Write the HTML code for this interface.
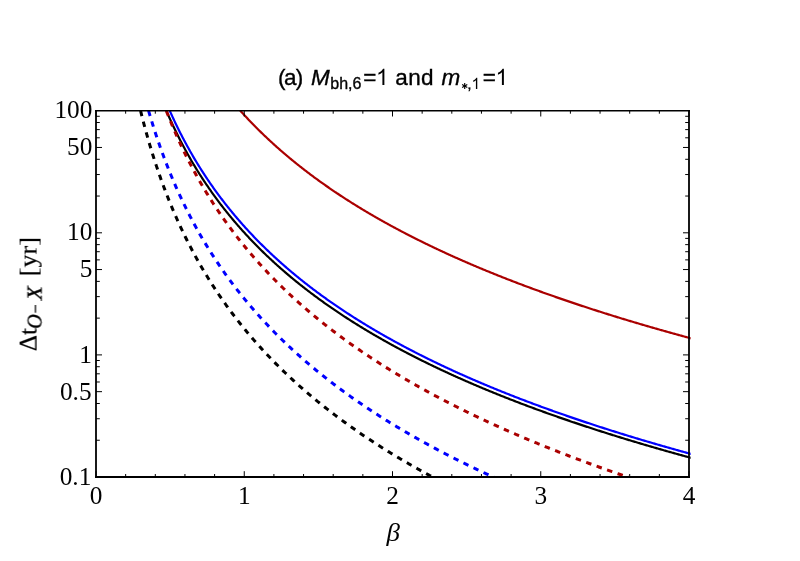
<!DOCTYPE html>
<html><head><meta charset="utf-8"><title>plot</title>
<style>
html,body{margin:0;padding:0;background:#fff;}
body{width:800px;height:561px;overflow:hidden;}
svg{display:block;}
text{font-family:"Liberation Serif",serif;fill:#000;}
.s{font-family:"Liberation Sans",sans-serif;}
</style></head><body>
<svg width="800" height="561" viewBox="0 0 800 561">
<rect width="800" height="561" fill="#fff"/>
<defs><clipPath id="c"><rect x="95.0" y="110.3" width="595.6" height="367.0"/></clipPath></defs>
<g clip-path="url(#c)">
<path d="M239.51 109.77 L240.25 110.60 L240.98 111.42 L241.72 112.23 L242.46 113.05 L243.19 113.85 L243.93 114.66 L244.66 115.46 L245.40 116.26 L246.14 117.05 L246.87 117.84 L247.61 118.62 L248.34 119.40 L249.08 120.18 L249.82 120.95 L250.55 121.72 L251.29 122.49 L252.03 123.25 L252.76 124.01 L253.50 124.76 L254.23 125.51 L254.97 126.26 L255.71 127.01 L256.44 127.75 L257.18 128.49 L257.91 129.22 L258.65 129.95 L259.39 130.68 L260.12 131.40 L260.86 132.12 L261.60 132.84 L262.33 133.56 L263.07 134.27 L263.80 134.98 L264.54 135.68 L265.28 136.38 L266.01 137.08 L266.75 137.78 L267.48 138.47 L268.22 139.16 L268.96 139.85 L269.69 140.53 L270.43 141.22 L271.17 141.89 L271.90 142.57 L272.64 143.24 L273.37 143.91 L274.11 144.58 L274.85 145.24 L275.58 145.90 L276.32 146.56 L277.05 147.22 L277.79 147.87 L278.53 148.52 L279.26 149.17 L280.00 149.82 L280.74 150.46 L281.47 151.10 L282.21 151.74 L282.94 152.37 L283.68 153.01 L284.42 153.64 L285.15 154.27 L285.89 154.89 L286.62 155.51 L287.36 156.13 L288.10 156.75 L288.83 157.37 L289.57 157.98 L290.31 158.59 L291.04 159.20 L291.78 159.81 L292.51 160.41 L293.25 161.01 L293.99 161.61 L294.72 162.21 L295.46 162.81 L296.19 163.40 L296.93 163.99 L297.67 164.58 L298.40 165.17 L299.14 165.75 L299.88 166.33 L300.61 166.91 L301.35 167.49 L302.08 168.07 L302.82 168.64 L303.56 169.21 L304.29 169.78 L305.03 170.35 L305.76 170.92 L306.50 171.48 L307.24 172.04 L307.97 172.60 L308.71 173.16 L309.45 173.71 L310.18 174.27 L310.92 174.82 L311.65 175.37 L312.39 175.92 L313.13 176.47 L313.86 177.01 L314.60 177.55 L315.33 178.09 L316.07 178.63 L316.81 179.17 L317.54 179.71 L318.28 180.24 L319.02 180.77 L319.75 181.30 L320.49 181.83 L321.22 182.36 L321.96 182.88 L322.70 183.41 L323.43 183.93 L324.17 184.45 L324.90 184.97 L325.64 185.48 L326.38 186.00 L327.11 186.51 L327.85 187.02 L328.59 187.53 L329.32 188.04 L330.06 188.55 L330.79 189.05 L331.53 189.55 L332.27 190.06 L333.00 190.56 L333.74 191.06 L334.47 191.55 L335.21 192.05 L335.95 192.54 L336.68 193.04 L337.42 193.53 L338.16 194.02 L338.89 194.50 L339.63 194.99 L340.36 195.48 L341.10 195.96 L341.84 196.44 L342.57 196.92 L343.31 197.40 L344.04 197.88 L344.78 198.36 L345.52 198.83 L346.25 199.31 L346.99 199.78 L347.73 200.25 L348.46 200.72 L349.20 201.19 L349.93 201.65 L350.67 202.12 L351.41 202.58 L352.14 203.05 L352.88 203.51 L353.61 203.97 L354.35 204.43 L355.09 204.88 L355.82 205.34 L356.56 205.80 L357.30 206.25 L358.03 206.70 L358.77 207.15 L359.50 207.60 L360.24 208.05 L360.98 208.50 L361.71 208.94 L362.45 209.39 L363.18 209.83 L363.92 210.27 L364.66 210.72 L365.39 211.16 L366.13 211.59 L366.87 212.03 L367.60 212.47 L368.34 212.90 L369.07 213.34 L369.81 213.77 L370.55 214.20 L371.28 214.63 L372.02 215.06 L372.75 215.49 L373.49 215.92 L374.23 216.34 L374.96 216.77 L375.70 217.19 L376.44 217.61 L377.17 218.03 L377.91 218.45 L378.64 218.87 L379.38 219.29 L380.12 219.71 L380.85 220.12 L381.59 220.54 L382.32 220.95 L383.06 221.37 L383.80 221.78 L384.53 222.19 L385.27 222.60 L386.01 223.01 L386.74 223.41 L387.48 223.82 L388.21 224.22 L388.95 224.63 L389.69 225.03 L390.42 225.43 L391.16 225.84 L391.89 226.24 L392.63 226.64 L393.37 227.03 L394.10 227.43 L394.84 227.83 L395.58 228.22 L396.31 228.62 L397.05 229.01 L397.78 229.40 L398.52 229.79 L399.26 230.19 L399.99 230.57 L400.73 230.96 L401.46 231.35 L402.20 231.74 L402.94 232.12 L403.67 232.51 L404.41 232.89 L405.15 233.28 L405.88 233.66 L406.62 234.04 L407.35 234.42 L408.09 234.80 L408.83 235.18 L409.56 235.55 L410.30 235.93 L411.03 236.31 L411.77 236.68 L412.51 237.06 L413.24 237.43 L413.98 237.80 L414.72 238.17 L415.45 238.54 L416.19 238.91 L416.92 239.28 L417.66 239.65 L418.40 240.02 L419.13 240.38 L419.87 240.75 L420.60 241.11 L421.34 241.48 L422.08 241.84 L422.81 242.20 L423.55 242.56 L424.29 242.93 L425.02 243.29 L425.76 243.64 L426.49 244.00 L427.23 244.36 L427.97 244.72 L428.70 245.07 L429.44 245.43 L430.17 245.78 L430.91 246.13 L431.65 246.49 L432.38 246.84 L433.12 247.19 L433.86 247.54 L434.59 247.89 L435.33 248.24 L436.06 248.59 L436.80 248.93 L437.54 249.28 L438.27 249.63 L439.01 249.97 L439.74 250.32 L440.48 250.66 L441.22 251.00 L441.95 251.34 L442.69 251.69 L443.43 252.03 L444.16 252.37 L444.90 252.71 L445.63 253.04 L446.37 253.38 L447.11 253.72 L447.84 254.06 L448.58 254.39 L449.31 254.73 L450.05 255.06 L450.79 255.39 L451.52 255.73 L452.26 256.06 L453.00 256.39 L453.73 256.72 L454.47 257.05 L455.20 257.38 L455.94 257.71 L456.68 258.04 L457.41 258.36 L458.15 258.69 L458.88 259.02 L459.62 259.34 L460.36 259.67 L461.09 259.99 L461.83 260.32 L462.57 260.64 L463.30 260.96 L464.04 261.28 L464.77 261.60 L465.51 261.92 L466.25 262.24 L466.98 262.56 L467.72 262.88 L468.45 263.20 L469.19 263.51 L469.93 263.83 L470.66 264.15 L471.40 264.46 L472.14 264.78 L472.87 265.09 L473.61 265.40 L474.34 265.72 L475.08 266.03 L475.82 266.34 L476.55 266.65 L477.29 266.96 L478.02 267.27 L478.76 267.58 L479.50 267.89 L480.23 268.20 L480.97 268.50 L481.71 268.81 L482.44 269.12 L483.18 269.42 L483.91 269.73 L484.65 270.03 L485.39 270.33 L486.12 270.64 L486.86 270.94 L487.59 271.24 L488.33 271.54 L489.07 271.84 L489.80 272.14 L490.54 272.44 L491.28 272.74 L492.01 273.04 L492.75 273.34 L493.48 273.64 L494.22 273.93 L494.96 274.23 L495.69 274.53 L496.43 274.82 L497.16 275.12 L497.90 275.41 L498.64 275.70 L499.37 276.00 L500.11 276.29 L500.85 276.58 L501.58 276.87 L502.32 277.17 L503.05 277.46 L503.79 277.75 L504.53 278.04 L505.26 278.32 L506.00 278.61 L506.73 278.90 L507.47 279.19 L508.21 279.48 L508.94 279.76 L509.68 280.05 L510.42 280.33 L511.15 280.62 L511.89 280.90 L512.62 281.19 L513.36 281.47 L514.10 281.75 L514.83 282.03 L515.57 282.32 L516.30 282.60 L517.04 282.88 L517.78 283.16 L518.51 283.44 L519.25 283.72 L519.99 284.00 L520.72 284.27 L521.46 284.55 L522.19 284.83 L522.93 285.11 L523.67 285.38 L524.40 285.66 L525.14 285.94 L525.87 286.21 L526.61 286.48 L527.35 286.76 L528.08 287.03 L528.82 287.31 L529.56 287.58 L530.29 287.85 L531.03 288.12 L531.76 288.39 L532.50 288.66 L533.24 288.93 L533.97 289.20 L534.71 289.47 L535.44 289.74 L536.18 290.01 L536.92 290.28 L537.65 290.55 L538.39 290.81 L539.13 291.08 L539.86 291.35 L540.60 291.61 L541.33 291.88 L542.07 292.14 L542.81 292.41 L543.54 292.67 L544.28 292.94 L545.01 293.20 L545.75 293.46 L546.49 293.73 L547.22 293.99 L547.96 294.25 L548.70 294.51 L549.43 294.77 L550.17 295.03 L550.90 295.29 L551.64 295.55 L552.38 295.81 L553.11 296.07 L553.85 296.33 L554.58 296.58 L555.32 296.84 L556.06 297.10 L556.79 297.35 L557.53 297.61 L558.27 297.87 L559.00 298.12 L559.74 298.38 L560.47 298.63 L561.21 298.88 L561.95 299.14 L562.68 299.39 L563.42 299.64 L564.15 299.90 L564.89 300.15 L565.63 300.40 L566.36 300.65 L567.10 300.90 L567.84 301.15 L568.57 301.40 L569.31 301.65 L570.04 301.90 L570.78 302.15 L571.52 302.40 L572.25 302.65 L572.99 302.90 L573.72 303.14 L574.46 303.39 L575.20 303.64 L575.93 303.88 L576.67 304.13 L577.41 304.37 L578.14 304.62 L578.88 304.86 L579.61 305.11 L580.35 305.35 L581.09 305.60 L581.82 305.84 L582.56 306.08 L583.29 306.32 L584.03 306.57 L584.77 306.81 L585.50 307.05 L586.24 307.29 L586.98 307.53 L587.71 307.77 L588.45 308.01 L589.18 308.25 L589.92 308.49 L590.66 308.73 L591.39 308.97 L592.13 309.21 L592.86 309.44 L593.60 309.68 L594.34 309.92 L595.07 310.16 L595.81 310.39 L596.55 310.63 L597.28 310.86 L598.02 311.10 L598.75 311.33 L599.49 311.57 L600.23 311.80 L600.96 312.04 L601.70 312.27 L602.43 312.50 L603.17 312.74 L603.91 312.97 L604.64 313.20 L605.38 313.43 L606.12 313.67 L606.85 313.90 L607.59 314.13 L608.32 314.36 L609.06 314.59 L609.80 314.82 L610.53 315.05 L611.27 315.28 L612.00 315.51 L612.74 315.73 L613.48 315.96 L614.21 316.19 L614.95 316.42 L615.69 316.65 L616.42 316.87 L617.16 317.10 L617.89 317.33 L618.63 317.55 L619.37 317.78 L620.10 318.00 L620.84 318.23 L621.57 318.45 L622.31 318.68 L623.05 318.90 L623.78 319.13 L624.52 319.35 L625.26 319.57 L625.99 319.80 L626.73 320.02 L627.46 320.24 L628.20 320.46 L628.94 320.68 L629.67 320.91 L630.41 321.13 L631.14 321.35 L631.88 321.57 L632.62 321.79 L633.35 322.01 L634.09 322.23 L634.83 322.45 L635.56 322.67 L636.30 322.88 L637.03 323.10 L637.77 323.32 L638.51 323.54 L639.24 323.76 L639.98 323.97 L640.71 324.19 L641.45 324.41 L642.19 324.62 L642.92 324.84 L643.66 325.05 L644.40 325.27 L645.13 325.48 L645.87 325.70 L646.60 325.91 L647.34 326.13 L648.08 326.34 L648.81 326.56 L649.55 326.77 L650.28 326.98 L651.02 327.19 L651.76 327.41 L652.49 327.62 L653.23 327.83 L653.97 328.04 L654.70 328.25 L655.44 328.47 L656.17 328.68 L656.91 328.89 L657.65 329.10 L658.38 329.31 L659.12 329.52 L659.85 329.73 L660.59 329.94 L661.33 330.14 L662.06 330.35 L662.80 330.56 L663.54 330.77 L664.27 330.98 L665.01 331.18 L665.74 331.39 L666.48 331.60 L667.22 331.81 L667.95 332.01 L668.69 332.22 L669.42 332.42 L670.16 332.63 L670.90 332.84 L671.63 333.04 L672.37 333.25 L673.11 333.45 L673.84 333.65 L674.58 333.86 L675.31 334.06 L676.05 334.27 L676.79 334.47 L677.52 334.67 L678.26 334.88 L678.99 335.08 L679.73 335.28 L680.47 335.48 L681.20 335.68 L681.94 335.89 L682.68 336.09 L683.41 336.29 L684.15 336.49 L684.88 336.69 L685.62 336.89 L686.36 337.09 L687.09 337.29 L687.83 337.49 L688.56 337.69 L689.30 337.89 L690.04 338.09 L690.77 338.28 L691.51 338.48 L692.25 338.68 L692.47 338.74" fill="none" stroke="#aa0000" stroke-width="2.2"/>
<path d="M169.35 109.82 L170.09 111.48 L170.83 113.13 L171.56 114.75 L172.30 116.37 L173.04 117.96 L173.77 119.55 L174.51 121.11 L175.24 122.66 L175.98 124.20 L176.72 125.72 L177.45 127.23 L178.19 128.73 L178.92 130.21 L179.66 131.68 L180.40 133.13 L181.13 134.58 L181.87 136.01 L182.61 137.42 L183.34 138.83 L184.08 140.22 L184.81 141.60 L185.55 142.97 L186.29 144.33 L187.02 145.68 L187.76 147.02 L188.49 148.34 L189.23 149.66 L189.97 150.96 L190.70 152.26 L191.44 153.54 L192.18 154.82 L192.91 156.08 L193.65 157.33 L194.38 158.58 L195.12 159.81 L195.86 161.04 L196.59 162.26 L197.33 163.47 L198.06 164.67 L198.80 165.86 L199.54 167.04 L200.27 168.21 L201.01 169.38 L201.75 170.53 L202.48 171.68 L203.22 172.82 L203.95 173.96 L204.69 175.08 L205.43 176.20 L206.16 177.31 L206.90 178.41 L207.63 179.51 L208.37 180.60 L209.11 181.68 L209.84 182.75 L210.58 183.82 L211.32 184.88 L212.05 185.93 L212.79 186.97 L213.52 188.01 L214.26 189.05 L215.00 190.07 L215.73 191.09 L216.47 192.11 L217.20 193.11 L217.94 194.11 L218.68 195.11 L219.41 196.10 L220.15 197.08 L220.89 198.06 L221.62 199.03 L222.36 199.99 L223.09 200.95 L223.83 201.91 L224.57 202.86 L225.30 203.80 L226.04 204.74 L226.77 205.67 L227.51 206.60 L228.25 207.52 L228.98 208.44 L229.72 209.35 L230.46 210.26 L231.19 211.16 L231.93 212.05 L232.66 212.95 L233.40 213.83 L234.14 214.71 L234.87 215.59 L235.61 216.46 L236.34 217.33 L237.08 218.20 L237.82 219.05 L238.55 219.91 L239.29 220.76 L240.03 221.60 L240.76 222.45 L241.50 223.28 L242.23 224.11 L242.97 224.94 L243.71 225.77 L244.44 226.59 L245.18 227.40 L245.91 228.21 L246.65 229.02 L247.39 229.83 L248.12 230.63 L248.86 231.42 L249.60 232.21 L250.33 233.00 L251.07 233.79 L251.80 234.57 L252.54 235.34 L253.28 236.12 L254.01 236.89 L254.75 237.65 L255.48 238.42 L256.22 239.17 L256.96 239.93 L257.69 240.68 L258.43 241.43 L259.17 242.18 L259.90 242.92 L260.64 243.66 L261.37 244.39 L262.11 245.12 L262.85 245.85 L263.58 246.58 L264.32 247.30 L265.06 248.02 L265.79 248.73 L266.53 249.44 L267.26 250.15 L268.00 250.86 L268.74 251.56 L269.47 252.26 L270.21 252.96 L270.94 253.65 L271.68 254.35 L272.42 255.03 L273.15 255.72 L273.89 256.40 L274.63 257.08 L275.36 257.76 L276.10 258.43 L276.83 259.10 L277.57 259.77 L278.31 260.44 L279.04 261.10 L279.78 261.76 L280.51 262.42 L281.25 263.08 L281.99 263.73 L282.72 264.38 L283.46 265.02 L284.20 265.67 L284.93 266.31 L285.67 266.95 L286.40 267.59 L287.14 268.22 L287.88 268.86 L288.61 269.48 L289.35 270.11 L290.08 270.74 L290.82 271.36 L291.56 271.98 L292.29 272.60 L293.03 273.21 L293.77 273.83 L294.50 274.44 L295.24 275.05 L295.97 275.65 L296.71 276.26 L297.45 276.86 L298.18 277.46 L298.92 278.05 L299.65 278.65 L300.39 279.24 L301.13 279.83 L301.86 280.42 L302.60 281.01 L303.34 281.59 L304.07 282.18 L304.81 282.76 L305.54 283.33 L306.28 283.91 L307.02 284.48 L307.75 285.06 L308.49 285.63 L309.22 286.20 L309.96 286.76 L310.70 287.33 L311.43 287.89 L312.17 288.45 L312.91 289.01 L313.64 289.56 L314.38 290.12 L315.11 290.67 L315.85 291.22 L316.59 291.77 L317.32 292.32 L318.06 292.86 L318.79 293.41 L319.53 293.95 L320.27 294.49 L321.00 295.03 L321.74 295.56 L322.48 296.10 L323.21 296.63 L323.95 297.16 L324.68 297.69 L325.42 298.22 L326.16 298.74 L326.89 299.27 L327.63 299.79 L328.36 300.31 L329.10 300.83 L329.84 301.35 L330.57 301.86 L331.31 302.38 L332.05 302.89 L332.78 303.40 L333.52 303.91 L334.25 304.42 L334.99 304.92 L335.73 305.43 L336.46 305.93 L337.20 306.43 L337.93 306.93 L338.67 307.43 L339.41 307.93 L340.14 308.42 L340.88 308.92 L341.62 309.41 L342.35 309.90 L343.09 310.39 L343.82 310.88 L344.56 311.37 L345.30 311.85 L346.03 312.33 L346.77 312.82 L347.50 313.30 L348.24 313.78 L348.98 314.25 L349.71 314.73 L350.45 315.21 L351.19 315.68 L351.92 316.15 L352.66 316.62 L353.39 317.09 L354.13 317.56 L354.87 318.03 L355.60 318.49 L356.34 318.96 L357.07 319.42 L357.81 319.88 L358.55 320.34 L359.28 320.80 L360.02 321.26 L360.76 321.72 L361.49 322.17 L362.23 322.62 L362.96 323.08 L363.70 323.53 L364.44 323.98 L365.17 324.43 L365.91 324.87 L366.64 325.32 L367.38 325.77 L368.12 326.21 L368.85 326.65 L369.59 327.09 L370.33 327.53 L371.06 327.97 L371.80 328.41 L372.53 328.85 L373.27 329.28 L374.01 329.72 L374.74 330.15 L375.48 330.58 L376.21 331.01 L376.95 331.44 L377.69 331.87 L378.42 332.30 L379.16 332.73 L379.90 333.15 L380.63 333.58 L381.37 334.00 L382.10 334.42 L382.84 334.84 L383.58 335.26 L384.31 335.68 L385.05 336.10 L385.78 336.52 L386.52 336.93 L387.26 337.35 L387.99 337.76 L388.73 338.17 L389.47 338.58 L390.20 338.99 L390.94 339.40 L391.67 339.81 L392.41 340.22 L393.15 340.62 L393.88 341.03 L394.62 341.43 L395.35 341.84 L396.09 342.24 L396.83 342.64 L397.56 343.04 L398.30 343.44 L399.04 343.84 L399.77 344.23 L400.51 344.63 L401.24 345.03 L401.98 345.42 L402.72 345.81 L403.45 346.21 L404.19 346.60 L404.92 346.99 L405.66 347.38 L406.40 347.77 L407.13 348.15 L407.87 348.54 L408.61 348.93 L409.34 349.31 L410.08 349.69 L410.81 350.08 L411.55 350.46 L412.29 350.84 L413.02 351.22 L413.76 351.60 L414.49 351.98 L415.23 352.36 L415.97 352.73 L416.70 353.11 L417.44 353.49 L418.18 353.86 L418.91 354.23 L419.65 354.61 L420.38 354.98 L421.12 355.35 L421.86 355.72 L422.59 356.09 L423.33 356.46 L424.06 356.82 L424.80 357.19 L425.54 357.56 L426.27 357.92 L427.01 358.29 L427.75 358.65 L428.48 359.01 L429.22 359.37 L429.95 359.73 L430.69 360.09 L431.43 360.45 L432.16 360.81 L432.90 361.17 L433.63 361.53 L434.37 361.88 L435.11 362.24 L435.84 362.59 L436.58 362.95 L437.32 363.30 L438.05 363.65 L438.79 364.00 L439.52 364.35 L440.26 364.70 L441.00 365.05 L441.73 365.40 L442.47 365.75 L443.20 366.10 L443.94 366.44 L444.68 366.79 L445.41 367.13 L446.15 367.48 L446.89 367.82 L447.62 368.16 L448.36 368.51 L449.09 368.85 L449.83 369.19 L450.57 369.53 L451.30 369.87 L452.04 370.20 L452.77 370.54 L453.51 370.88 L454.25 371.21 L454.98 371.55 L455.72 371.89 L456.46 372.22 L457.19 372.55 L457.93 372.89 L458.66 373.22 L459.40 373.55 L460.14 373.88 L460.87 374.21 L461.61 374.54 L462.34 374.87 L463.08 375.20 L463.82 375.52 L464.55 375.85 L465.29 376.18 L466.03 376.50 L466.76 376.83 L467.50 377.15 L468.23 377.47 L468.97 377.80 L469.71 378.12 L470.44 378.44 L471.18 378.76 L471.91 379.08 L472.65 379.40 L473.39 379.72 L474.12 380.04 L474.86 380.36 L475.60 380.67 L476.33 380.99 L477.07 381.31 L477.80 381.62 L478.54 381.94 L479.28 382.25 L480.01 382.56 L480.75 382.88 L481.48 383.19 L482.22 383.50 L482.96 383.81 L483.69 384.12 L484.43 384.43 L485.17 384.74 L485.90 385.05 L486.64 385.36 L487.37 385.66 L488.11 385.97 L488.85 386.28 L489.58 386.58 L490.32 386.89 L491.05 387.19 L491.79 387.50 L492.53 387.80 L493.26 388.10 L494.00 388.41 L494.74 388.71 L495.47 389.01 L496.21 389.31 L496.94 389.61 L497.68 389.91 L498.42 390.21 L499.15 390.51 L499.89 390.80 L500.62 391.10 L501.36 391.40 L502.10 391.70 L502.83 391.99 L503.57 392.29 L504.31 392.58 L505.04 392.87 L505.78 393.17 L506.51 393.46 L507.25 393.75 L507.99 394.05 L508.72 394.34 L509.46 394.63 L510.19 394.92 L510.93 395.21 L511.67 395.50 L512.40 395.79 L513.14 396.07 L513.88 396.36 L514.61 396.65 L515.35 396.94 L516.08 397.22 L516.82 397.51 L517.56 397.79 L518.29 398.08 L519.03 398.36 L519.76 398.65 L520.50 398.93 L521.24 399.21 L521.97 399.50 L522.71 399.78 L523.45 400.06 L524.18 400.34 L524.92 400.62 L525.65 400.90 L526.39 401.18 L527.13 401.46 L527.86 401.74 L528.60 402.01 L529.33 402.29 L530.07 402.57 L530.81 402.84 L531.54 403.12 L532.28 403.40 L533.02 403.67 L533.75 403.95 L534.49 404.22 L535.22 404.49 L535.96 404.77 L536.70 405.04 L537.43 405.31 L538.17 405.58 L538.90 405.86 L539.64 406.13 L540.38 406.40 L541.11 406.67 L541.85 406.94 L542.59 407.21 L543.32 407.47 L544.06 407.74 L544.79 408.01 L545.53 408.28 L546.27 408.54 L547.00 408.81 L547.74 409.08 L548.47 409.34 L549.21 409.61 L549.95 409.87 L550.68 410.14 L551.42 410.40 L552.16 410.66 L552.89 410.93 L553.63 411.19 L554.36 411.45 L555.10 411.71 L555.84 411.98 L556.57 412.24 L557.31 412.50 L558.04 412.76 L558.78 413.02 L559.52 413.28 L560.25 413.53 L560.99 413.79 L561.73 414.05 L562.46 414.31 L563.20 414.57 L563.93 414.82 L564.67 415.08 L565.41 415.33 L566.14 415.59 L566.88 415.85 L567.61 416.10 L568.35 416.35 L569.09 416.61 L569.82 416.86 L570.56 417.11 L571.30 417.37 L572.03 417.62 L572.77 417.87 L573.50 418.12 L574.24 418.37 L574.98 418.63 L575.71 418.88 L576.45 419.13 L577.18 419.38 L577.92 419.62 L578.66 419.87 L579.39 420.12 L580.13 420.37 L580.87 420.62 L581.60 420.87 L582.34 421.11 L583.07 421.36 L583.81 421.60 L584.55 421.85 L585.28 422.10 L586.02 422.34 L586.75 422.59 L587.49 422.83 L588.23 423.07 L588.96 423.32 L589.70 423.56 L590.44 423.80 L591.17 424.05 L591.91 424.29 L592.64 424.53 L593.38 424.77 L594.12 425.01 L594.85 425.25 L595.59 425.49 L596.32 425.73 L597.06 425.97 L597.80 426.21 L598.53 426.45 L599.27 426.69 L600.01 426.93 L600.74 427.17 L601.48 427.40 L602.21 427.64 L602.95 427.88 L603.69 428.11 L604.42 428.35 L605.16 428.59 L605.89 428.82 L606.63 429.06 L607.37 429.29 L608.10 429.53 L608.84 429.76 L609.58 429.99 L610.31 430.23 L611.05 430.46 L611.78 430.69 L612.52 430.93 L613.26 431.16 L613.99 431.39 L614.73 431.62 L615.46 431.85 L616.20 432.08 L616.94 432.31 L617.67 432.54 L618.41 432.77 L619.15 433.00 L619.88 433.23 L620.62 433.46 L621.35 433.69 L622.09 433.92 L622.83 434.14 L623.56 434.37 L624.30 434.60 L625.03 434.83 L625.77 435.05 L626.51 435.28 L627.24 435.50 L627.98 435.73 L628.72 435.96 L629.45 436.18 L630.19 436.40 L630.92 436.63 L631.66 436.85 L632.40 437.08 L633.13 437.30 L633.87 437.52 L634.60 437.75 L635.34 437.97 L636.08 438.19 L636.81 438.41 L637.55 438.63 L638.29 438.86 L639.02 439.08 L639.76 439.30 L640.49 439.52 L641.23 439.74 L641.97 439.96 L642.70 440.18 L643.44 440.40 L644.17 440.61 L644.91 440.83 L645.65 441.05 L646.38 441.27 L647.12 441.49 L647.86 441.70 L648.59 441.92 L649.33 442.14 L650.06 442.35 L650.80 442.57 L651.54 442.79 L652.27 443.00 L653.01 443.22 L653.74 443.43 L654.48 443.65 L655.22 443.86 L655.95 444.08 L656.69 444.29 L657.43 444.50 L658.16 444.72 L658.90 444.93 L659.63 445.14 L660.37 445.36 L661.11 445.57 L661.84 445.78 L662.58 445.99 L663.31 446.20 L664.05 446.41 L664.79 446.63 L665.52 446.84 L666.26 447.05 L667.00 447.26 L667.73 447.47 L668.47 447.68 L669.20 447.88 L669.94 448.09 L670.68 448.30 L671.41 448.51 L672.15 448.72 L672.88 448.93 L673.62 449.13 L674.36 449.34 L675.09 449.55 L675.83 449.76 L676.57 449.96 L677.30 450.17 L678.04 450.37 L678.77 450.58 L679.51 450.79 L680.25 450.99 L680.98 451.20 L681.72 451.40 L682.45 451.61 L683.19 451.81 L683.93 452.01 L684.66 452.22 L685.40 452.42 L686.14 452.62 L686.87 452.83 L687.61 453.03 L688.34 453.23 L689.08 453.43 L689.82 453.64 L690.55 453.84 L691.29 454.04 L692.02 454.24 L692.47 454.36" fill="none" stroke="#0000ff" stroke-width="2.2"/>
<path d="M165.97 109.81 L166.70 111.52 L167.44 113.22 L168.18 114.91 L168.91 116.57 L169.65 118.22 L170.39 119.85 L171.12 121.47 L171.86 123.07 L172.59 124.65 L173.33 126.22 L174.07 127.77 L174.80 129.31 L175.54 130.84 L176.27 132.35 L177.01 133.84 L177.75 135.33 L178.48 136.80 L179.22 138.25 L179.96 139.70 L180.69 141.13 L181.43 142.54 L182.16 143.95 L182.90 145.34 L183.64 146.72 L184.37 148.09 L185.11 149.45 L185.84 150.80 L186.58 152.14 L187.32 153.46 L188.05 154.77 L188.79 156.08 L189.53 157.37 L190.26 158.65 L191.00 159.93 L191.73 161.19 L192.47 162.44 L193.21 163.69 L193.94 164.92 L194.68 166.15 L195.41 167.36 L196.15 168.57 L196.89 169.77 L197.62 170.96 L198.36 172.14 L199.10 173.31 L199.83 174.47 L200.57 175.62 L201.30 176.77 L202.04 177.91 L202.78 179.04 L203.51 180.16 L204.25 181.28 L204.98 182.39 L205.72 183.49 L206.46 184.58 L207.19 185.66 L207.93 186.74 L208.67 187.81 L209.40 188.88 L210.14 189.93 L210.87 190.98 L211.61 192.03 L212.35 193.06 L213.08 194.09 L213.82 195.12 L214.55 196.13 L215.29 197.14 L216.03 198.15 L216.76 199.15 L217.50 200.14 L218.24 201.12 L218.97 202.10 L219.71 203.08 L220.44 204.05 L221.18 205.01 L221.92 205.97 L222.65 206.92 L223.39 207.86 L224.12 208.80 L224.86 209.74 L225.60 210.67 L226.33 211.59 L227.07 212.51 L227.81 213.42 L228.54 214.33 L229.28 215.23 L230.01 216.13 L230.75 217.03 L231.49 217.91 L232.22 218.80 L232.96 219.68 L233.69 220.55 L234.43 221.42 L235.17 222.29 L235.90 223.15 L236.64 224.00 L237.38 224.85 L238.11 225.70 L238.85 226.54 L239.58 227.38 L240.32 228.21 L241.06 229.04 L241.79 229.87 L242.53 230.69 L243.26 231.50 L244.00 232.32 L244.74 233.12 L245.47 233.93 L246.21 234.73 L246.95 235.52 L247.68 236.32 L248.42 237.11 L249.15 237.89 L249.89 238.67 L250.63 239.45 L251.36 240.22 L252.10 240.99 L252.83 241.76 L253.57 242.52 L254.31 243.28 L255.04 244.04 L255.78 244.79 L256.52 245.54 L257.25 246.28 L257.99 247.02 L258.72 247.76 L259.46 248.50 L260.20 249.23 L260.93 249.96 L261.67 250.68 L262.40 251.40 L263.14 252.12 L263.88 252.84 L264.61 253.55 L265.35 254.26 L266.09 254.96 L266.82 255.67 L267.56 256.37 L268.29 257.06 L269.03 257.76 L269.77 258.45 L270.50 259.13 L271.24 259.82 L271.97 260.50 L272.71 261.18 L273.45 261.86 L274.18 262.53 L274.92 263.20 L275.66 263.87 L276.39 264.53 L277.13 265.20 L277.86 265.86 L278.60 266.51 L279.34 267.17 L280.07 267.82 L280.81 268.47 L281.54 269.11 L282.28 269.76 L283.02 270.40 L283.75 271.04 L284.49 271.68 L285.23 272.31 L285.96 272.94 L286.70 273.57 L287.43 274.20 L288.17 274.82 L288.91 275.44 L289.64 276.06 L290.38 276.68 L291.11 277.29 L291.85 277.90 L292.59 278.51 L293.32 279.12 L294.06 279.73 L294.80 280.33 L295.53 280.93 L296.27 281.53 L297.00 282.13 L297.74 282.72 L298.48 283.31 L299.21 283.90 L299.95 284.49 L300.68 285.07 L301.42 285.66 L302.16 286.24 L302.89 286.82 L303.63 287.39 L304.37 287.97 L305.10 288.54 L305.84 289.11 L306.57 289.68 L307.31 290.25 L308.05 290.81 L308.78 291.38 L309.52 291.94 L310.25 292.50 L310.99 293.06 L311.73 293.61 L312.46 294.16 L313.20 294.72 L313.94 295.26 L314.67 295.81 L315.41 296.36 L316.14 296.90 L316.88 297.44 L317.62 297.98 L318.35 298.52 L319.09 299.06 L319.82 299.59 L320.56 300.13 L321.30 300.66 L322.03 301.19 L322.77 301.72 L323.51 302.24 L324.24 302.77 L324.98 303.29 L325.71 303.81 L326.45 304.33 L327.19 304.85 L327.92 305.37 L328.66 305.88 L329.39 306.39 L330.13 306.90 L330.87 307.41 L331.60 307.92 L332.34 308.43 L333.08 308.93 L333.81 309.44 L334.55 309.94 L335.28 310.44 L336.02 310.94 L336.76 311.43 L337.49 311.93 L338.23 312.42 L338.96 312.92 L339.70 313.41 L340.44 313.90 L341.17 314.38 L341.91 314.87 L342.65 315.35 L343.38 315.84 L344.12 316.32 L344.85 316.80 L345.59 317.28 L346.33 317.76 L347.06 318.23 L347.80 318.71 L348.53 319.18 L349.27 319.66 L350.01 320.13 L350.74 320.60 L351.48 321.06 L352.22 321.53 L352.95 322.00 L353.69 322.46 L354.42 322.92 L355.16 323.38 L355.90 323.84 L356.63 324.30 L357.37 324.76 L358.10 325.22 L358.84 325.67 L359.58 326.13 L360.31 326.58 L361.05 327.03 L361.79 327.48 L362.52 327.93 L363.26 328.38 L363.99 328.82 L364.73 329.27 L365.47 329.71 L366.20 330.15 L366.94 330.59 L367.67 331.03 L368.41 331.47 L369.15 331.91 L369.88 332.35 L370.62 332.78 L371.36 333.22 L372.09 333.65 L372.83 334.08 L373.56 334.51 L374.30 334.94 L375.04 335.37 L375.77 335.80 L376.51 336.22 L377.25 336.65 L377.98 337.07 L378.72 337.49 L379.45 337.91 L380.19 338.33 L380.93 338.75 L381.66 339.17 L382.40 339.59 L383.13 340.01 L383.87 340.42 L384.61 340.83 L385.34 341.25 L386.08 341.66 L386.82 342.07 L387.55 342.48 L388.29 342.89 L389.02 343.30 L389.76 343.70 L390.50 344.11 L391.23 344.51 L391.97 344.92 L392.70 345.32 L393.44 345.72 L394.18 346.12 L394.91 346.52 L395.65 346.92 L396.39 347.32 L397.12 347.71 L397.86 348.11 L398.59 348.50 L399.33 348.90 L400.07 349.29 L400.80 349.68 L401.54 350.07 L402.27 350.46 L403.01 350.85 L403.75 351.24 L404.48 351.63 L405.22 352.01 L405.96 352.40 L406.69 352.78 L407.43 353.17 L408.16 353.55 L408.90 353.93 L409.64 354.31 L410.37 354.69 L411.11 355.07 L411.84 355.45 L412.58 355.83 L413.32 356.20 L414.05 356.58 L414.79 356.95 L415.53 357.33 L416.26 357.70 L417.00 358.07 L417.73 358.44 L418.47 358.81 L419.21 359.18 L419.94 359.55 L420.68 359.92 L421.41 360.28 L422.15 360.65 L422.89 361.01 L423.62 361.38 L424.36 361.74 L425.10 362.10 L425.83 362.47 L426.57 362.83 L427.30 363.19 L428.04 363.55 L428.78 363.91 L429.51 364.26 L430.25 364.62 L430.98 364.98 L431.72 365.33 L432.46 365.69 L433.19 366.04 L433.93 366.39 L434.67 366.75 L435.40 367.10 L436.14 367.45 L436.87 367.80 L437.61 368.15 L438.35 368.50 L439.08 368.84 L439.82 369.19 L440.55 369.54 L441.29 369.88 L442.03 370.23 L442.76 370.57 L443.50 370.92 L444.24 371.26 L444.97 371.60 L445.71 371.94 L446.44 372.28 L447.18 372.62 L447.92 372.96 L448.65 373.30 L449.39 373.64 L450.12 373.97 L450.86 374.31 L451.60 374.64 L452.33 374.98 L453.07 375.31 L453.81 375.65 L454.54 375.98 L455.28 376.31 L456.01 376.64 L456.75 376.97 L457.49 377.30 L458.22 377.63 L458.96 377.96 L459.69 378.29 L460.43 378.62 L461.17 378.94 L461.90 379.27 L462.64 379.59 L463.38 379.92 L464.11 380.24 L464.85 380.57 L465.58 380.89 L466.32 381.21 L467.06 381.53 L467.79 381.85 L468.53 382.17 L469.26 382.49 L470.00 382.81 L470.74 383.13 L471.47 383.45 L472.21 383.76 L472.95 384.08 L473.68 384.40 L474.42 384.71 L475.15 385.02 L475.89 385.34 L476.63 385.65 L477.36 385.96 L478.10 386.28 L478.83 386.59 L479.57 386.90 L480.31 387.21 L481.04 387.52 L481.78 387.83 L482.52 388.14 L483.25 388.44 L483.99 388.75 L484.72 389.06 L485.46 389.36 L486.20 389.67 L486.93 389.97 L487.67 390.28 L488.40 390.58 L489.14 390.89 L489.88 391.19 L490.61 391.49 L491.35 391.79 L492.09 392.09 L492.82 392.39 L493.56 392.69 L494.29 392.99 L495.03 393.29 L495.77 393.59 L496.50 393.89 L497.24 394.18 L497.97 394.48 L498.71 394.78 L499.45 395.07 L500.18 395.37 L500.92 395.66 L501.66 395.95 L502.39 396.25 L503.13 396.54 L503.86 396.83 L504.60 397.12 L505.34 397.42 L506.07 397.71 L506.81 398.00 L507.54 398.29 L508.28 398.57 L509.02 398.86 L509.75 399.15 L510.49 399.44 L511.23 399.73 L511.96 400.01 L512.70 400.30 L513.43 400.58 L514.17 400.87 L514.91 401.15 L515.64 401.44 L516.38 401.72 L517.11 402.00 L517.85 402.28 L518.59 402.57 L519.32 402.85 L520.06 403.13 L520.80 403.41 L521.53 403.69 L522.27 403.97 L523.00 404.25 L523.74 404.53 L524.48 404.80 L525.21 405.08 L525.95 405.36 L526.68 405.64 L527.42 405.91 L528.16 406.19 L528.89 406.46 L529.63 406.74 L530.37 407.01 L531.10 407.29 L531.84 407.56 L532.57 407.83 L533.31 408.10 L534.05 408.38 L534.78 408.65 L535.52 408.92 L536.25 409.19 L536.99 409.46 L537.73 409.73 L538.46 410.00 L539.20 410.27 L539.94 410.53 L540.67 410.80 L541.41 411.07 L542.14 411.34 L542.88 411.60 L543.62 411.87 L544.35 412.13 L545.09 412.40 L545.82 412.66 L546.56 412.93 L547.30 413.19 L548.03 413.46 L548.77 413.72 L549.51 413.98 L550.24 414.24 L550.98 414.51 L551.71 414.77 L552.45 415.03 L553.19 415.29 L553.92 415.55 L554.66 415.81 L555.39 416.07 L556.13 416.33 L556.87 416.58 L557.60 416.84 L558.34 417.10 L559.08 417.36 L559.81 417.61 L560.55 417.87 L561.28 418.13 L562.02 418.38 L562.76 418.64 L563.49 418.89 L564.23 419.15 L564.96 419.40 L565.70 419.65 L566.44 419.91 L567.17 420.16 L567.91 420.41 L568.65 420.66 L569.38 420.91 L570.12 421.17 L570.85 421.42 L571.59 421.67 L572.33 421.92 L573.06 422.17 L573.80 422.41 L574.53 422.66 L575.27 422.91 L576.01 423.16 L576.74 423.41 L577.48 423.65 L578.22 423.90 L578.95 424.15 L579.69 424.39 L580.42 424.64 L581.16 424.89 L581.90 425.13 L582.63 425.37 L583.37 425.62 L584.10 425.86 L584.84 426.11 L585.58 426.35 L586.31 426.59 L587.05 426.83 L587.79 427.08 L588.52 427.32 L589.26 427.56 L589.99 427.80 L590.73 428.04 L591.47 428.28 L592.20 428.52 L592.94 428.76 L593.67 429.00 L594.41 429.24 L595.15 429.48 L595.88 429.71 L596.62 429.95 L597.36 430.19 L598.09 430.43 L598.83 430.66 L599.56 430.90 L600.30 431.14 L601.04 431.37 L601.77 431.61 L602.51 431.84 L603.24 432.08 L603.98 432.31 L604.72 432.54 L605.45 432.78 L606.19 433.01 L606.93 433.24 L607.66 433.48 L608.40 433.71 L609.13 433.94 L609.87 434.17 L610.61 434.40 L611.34 434.63 L612.08 434.86 L612.81 435.10 L613.55 435.32 L614.29 435.55 L615.02 435.78 L615.76 436.01 L616.50 436.24 L617.23 436.47 L617.97 436.70 L618.70 436.92 L619.44 437.15 L620.18 437.38 L620.91 437.61 L621.65 437.83 L622.38 438.06 L623.12 438.28 L623.86 438.51 L624.59 438.73 L625.33 438.96 L626.07 439.18 L626.80 439.41 L627.54 439.63 L628.27 439.85 L629.01 440.08 L629.75 440.30 L630.48 440.52 L631.22 440.75 L631.95 440.97 L632.69 441.19 L633.43 441.41 L634.16 441.63 L634.90 441.85 L635.64 442.07 L636.37 442.29 L637.11 442.51 L637.84 442.73 L638.58 442.95 L639.32 443.17 L640.05 443.39 L640.79 443.61 L641.52 443.83 L642.26 444.04 L643.00 444.26 L643.73 444.48 L644.47 444.69 L645.21 444.91 L645.94 445.13 L646.68 445.34 L647.41 445.56 L648.15 445.77 L648.89 445.99 L649.62 446.20 L650.36 446.42 L651.09 446.63 L651.83 446.85 L652.57 447.06 L653.30 447.27 L654.04 447.49 L654.78 447.70 L655.51 447.91 L656.25 448.12 L656.98 448.34 L657.72 448.55 L658.46 448.76 L659.19 448.97 L659.93 449.18 L660.66 449.39 L661.40 449.60 L662.14 449.81 L662.87 450.02 L663.61 450.23 L664.35 450.44 L665.08 450.65 L665.82 450.86 L666.55 451.07 L667.29 451.28 L668.03 451.48 L668.76 451.69 L669.50 451.90 L670.23 452.11 L670.97 452.31 L671.71 452.52 L672.44 452.73 L673.18 452.93 L673.92 453.14 L674.65 453.34 L675.39 453.55 L676.12 453.75 L676.86 453.96 L677.60 454.16 L678.33 454.37 L679.07 454.57 L679.80 454.77 L680.54 454.98 L681.28 455.18 L682.01 455.38 L682.75 455.59 L683.49 455.79 L684.22 455.99 L684.96 456.19 L685.69 456.39 L686.43 456.59 L687.17 456.80 L687.90 457.00 L688.64 457.20 L689.37 457.40 L690.11 457.60 L690.85 457.80 L691.58 458.00 L692.32 458.20 L692.47 458.24" fill="none" stroke="#000" stroke-width="2.2"/>
<path d="M165.97 109.91 L166.70 111.81 L167.44 113.69 L168.18 115.55 L168.91 117.39 L169.65 119.21 L170.39 121.01 L171.12 122.80 L171.86 124.57 L172.59 126.32 L173.33 128.05 L174.07 129.77 L174.80 131.47 L175.54 133.16 L176.27 134.83 L177.01 136.48 L177.75 138.12 L178.48 139.74 L179.22 141.35 L179.96 142.95 L180.69 144.53 L181.43 146.10 L182.16 147.66 L182.90 149.20 L183.64 150.73 L184.37 152.24 L185.11 153.75 L185.84 155.24 L186.58 156.72 L187.32 158.18 L188.05 159.64 L188.79 161.08 L189.53 162.51 L190.26 163.93 L191.00 165.34 L191.73 166.74 L192.47 168.13 L193.21 169.51 L193.94 170.88 L194.68 172.23 L195.41 173.58 L196.15 174.92 L196.89 176.24 L197.62 177.56 L198.36 178.87 L199.10 180.17 L199.83 181.45 L200.57 182.73 L201.30 184.01 L202.04 185.27 L202.78 186.52 L203.51 187.77 L204.25 189.00 L204.98 190.23 L205.72 191.45 L206.46 192.66 L207.19 193.86 L207.93 195.06 L208.67 196.25 L209.40 197.43 L210.14 198.60 L210.87 199.76 L211.61 200.92 L212.35 202.07 L213.08 203.21 L213.82 204.35 L214.55 205.47 L215.29 206.60 L216.03 207.71 L216.76 208.82 L217.50 209.92 L218.24 211.01 L218.97 212.10 L219.71 213.18 L220.44 214.26 L221.18 215.32 L221.92 216.39 L222.65 217.44 L223.39 218.49 L224.12 219.53 L224.86 220.57 L225.60 221.60 L226.33 222.63 L227.07 223.65 L227.81 224.66 L228.54 225.67 L229.28 226.67 L230.01 227.67 L230.75 228.66 L231.49 229.65 L232.22 230.63 L232.96 231.61 L233.69 232.58 L234.43 233.54 L235.17 234.50 L235.90 235.46 L236.64 236.41 L237.38 237.36 L238.11 238.30 L238.85 239.23 L239.58 240.16 L240.32 241.09 L241.06 242.01 L241.79 242.93 L242.53 243.84 L243.26 244.75 L244.00 245.65 L244.74 246.55 L245.47 247.44 L246.21 248.33 L246.95 249.22 L247.68 250.10 L248.42 250.97 L249.15 251.85 L249.89 252.71 L250.63 253.58 L251.36 254.44 L252.10 255.29 L252.83 256.14 L253.57 256.99 L254.31 257.84 L255.04 258.68 L255.78 259.51 L256.52 260.34 L257.25 261.17 L257.99 262.00 L258.72 262.82 L259.46 263.64 L260.20 264.45 L260.93 265.26 L261.67 266.07 L262.40 266.87 L263.14 267.67 L263.88 268.46 L264.61 269.25 L265.35 270.04 L266.09 270.83 L266.82 271.61 L267.56 272.39 L268.29 273.16 L269.03 273.94 L269.77 274.70 L270.50 275.47 L271.24 276.23 L271.97 276.99 L272.71 277.75 L273.45 278.50 L274.18 279.25 L274.92 279.99 L275.66 280.74 L276.39 281.48 L277.13 282.22 L277.86 282.95 L278.60 283.68 L279.34 284.41 L280.07 285.13 L280.81 285.86 L281.54 286.58 L282.28 287.29 L283.02 288.01 L283.75 288.72 L284.49 289.43 L285.23 290.13 L285.96 290.83 L286.70 291.53 L287.43 292.23 L288.17 292.93 L288.91 293.62 L289.64 294.31 L290.38 295.00 L291.11 295.68 L291.85 296.36 L292.59 297.04 L293.32 297.72 L294.06 298.39 L294.80 299.06 L295.53 299.73 L296.27 300.40 L297.00 301.06 L297.74 301.72 L298.48 302.38 L299.21 303.04 L299.95 303.69 L300.68 304.35 L301.42 305.00 L302.16 305.64 L302.89 306.29 L303.63 306.93 L304.37 307.57 L305.10 308.21 L305.84 308.85 L306.57 309.48 L307.31 310.11 L308.05 310.74 L308.78 311.37 L309.52 311.99 L310.25 312.62 L310.99 313.24 L311.73 313.86 L312.46 314.47 L313.20 315.09 L313.94 315.70 L314.67 316.31 L315.41 316.92 L316.14 317.52 L316.88 318.13 L317.62 318.73 L318.35 319.33 L319.09 319.93 L319.82 320.52 L320.56 321.12 L321.30 321.71 L322.03 322.30 L322.77 322.89 L323.51 323.48 L324.24 324.06 L324.98 324.64 L325.71 325.23 L326.45 325.80 L327.19 326.38 L327.92 326.96 L328.66 327.53 L329.39 328.10 L330.13 328.67 L330.87 329.24 L331.60 329.81 L332.34 330.37 L333.08 330.93 L333.81 331.49 L334.55 332.05 L335.28 332.61 L336.02 333.17 L336.76 333.72 L337.49 334.27 L338.23 334.82 L338.96 335.37 L339.70 335.92 L340.44 336.47 L341.17 337.01 L341.91 337.55 L342.65 338.09 L343.38 338.63 L344.12 339.17 L344.85 339.71 L345.59 340.24 L346.33 340.78 L347.06 341.31 L347.80 341.84 L348.53 342.37 L349.27 342.89 L350.01 343.42 L350.74 343.94 L351.48 344.46 L352.22 344.98 L352.95 345.50 L353.69 346.02 L354.42 346.54 L355.16 347.05 L355.90 347.56 L356.63 348.08 L357.37 348.59 L358.10 349.10 L358.84 349.60 L359.58 350.11 L360.31 350.61 L361.05 351.12 L361.79 351.62 L362.52 352.12 L363.26 352.62 L363.99 353.12 L364.73 353.61 L365.47 354.11 L366.20 354.60 L366.94 355.09 L367.67 355.58 L368.41 356.07 L369.15 356.56 L369.88 357.05 L370.62 357.54 L371.36 358.02 L372.09 358.50 L372.83 358.99 L373.56 359.47 L374.30 359.94 L375.04 360.42 L375.77 360.90 L376.51 361.38 L377.25 361.85 L377.98 362.32 L378.72 362.79 L379.45 363.26 L380.19 363.73 L380.93 364.20 L381.66 364.67 L382.40 365.13 L383.13 365.60 L383.87 366.06 L384.61 366.52 L385.34 366.99 L386.08 367.45 L386.82 367.90 L387.55 368.36 L388.29 368.82 L389.02 369.27 L389.76 369.73 L390.50 370.18 L391.23 370.63 L391.97 371.08 L392.70 371.53 L393.44 371.98 L394.18 372.43 L394.91 372.87 L395.65 373.32 L396.39 373.76 L397.12 374.21 L397.86 374.65 L398.59 375.09 L399.33 375.53 L400.07 375.97 L400.80 376.40 L401.54 376.84 L402.27 377.28 L403.01 377.71 L403.75 378.14 L404.48 378.58 L405.22 379.01 L405.96 379.44 L406.69 379.87 L407.43 380.29 L408.16 380.72 L408.90 381.15 L409.64 381.57 L410.37 382.00 L411.11 382.42 L411.84 382.84 L412.58 383.26 L413.32 383.68 L414.05 384.10 L414.79 384.52 L415.53 384.94 L416.26 385.35 L417.00 385.77 L417.73 386.18 L418.47 386.60 L419.21 387.01 L419.94 387.42 L420.68 387.83 L421.41 388.24 L422.15 388.65 L422.89 389.06 L423.62 389.47 L424.36 389.87 L425.10 390.28 L425.83 390.68 L426.57 391.09 L427.30 391.49 L428.04 391.89 L428.78 392.29 L429.51 392.69 L430.25 393.09 L430.98 393.49 L431.72 393.88 L432.46 394.28 L433.19 394.68 L433.93 395.07 L434.67 395.46 L435.40 395.86 L436.14 396.25 L436.87 396.64 L437.61 397.03 L438.35 397.42 L439.08 397.81 L439.82 398.20 L440.55 398.58 L441.29 398.97 L442.03 399.35 L442.76 399.74 L443.50 400.12 L444.24 400.51 L444.97 400.89 L445.71 401.27 L446.44 401.65 L447.18 402.03 L447.92 402.41 L448.65 402.79 L449.39 403.16 L450.12 403.54 L450.86 403.92 L451.60 404.29 L452.33 404.66 L453.07 405.04 L453.81 405.41 L454.54 405.78 L455.28 406.15 L456.01 406.52 L456.75 406.89 L457.49 407.26 L458.22 407.63 L458.96 408.00 L459.69 408.36 L460.43 408.73 L461.17 409.09 L461.90 409.46 L462.64 409.82 L463.38 410.19 L464.11 410.55 L464.85 410.91 L465.58 411.27 L466.32 411.63 L467.06 411.99 L467.79 412.35 L468.53 412.71 L469.26 413.06 L470.00 413.42 L470.74 413.78 L471.47 414.13 L472.21 414.48 L472.95 414.84 L473.68 415.19 L474.42 415.54 L475.15 415.90 L475.89 416.25 L476.63 416.60 L477.36 416.95 L478.10 417.29 L478.83 417.64 L479.57 417.99 L480.31 418.34 L481.04 418.68 L481.78 419.03 L482.52 419.37 L483.25 419.72 L483.99 420.06 L484.72 420.40 L485.46 420.75 L486.20 421.09 L486.93 421.43 L487.67 421.77 L488.40 422.11 L489.14 422.45 L489.88 422.79 L490.61 423.12 L491.35 423.46 L492.09 423.80 L492.82 424.13 L493.56 424.47 L494.29 424.80 L495.03 425.14 L495.77 425.47 L496.50 425.80 L497.24 426.14 L497.97 426.47 L498.71 426.80 L499.45 427.13 L500.18 427.46 L500.92 427.79 L501.66 428.12 L502.39 428.45 L503.13 428.77 L503.86 429.10 L504.60 429.43 L505.34 429.75 L506.07 430.08 L506.81 430.40 L507.54 430.72 L508.28 431.05 L509.02 431.37 L509.75 431.69 L510.49 432.01 L511.23 432.34 L511.96 432.66 L512.70 432.98 L513.43 433.30 L514.17 433.61 L514.91 433.93 L515.64 434.25 L516.38 434.57 L517.11 434.88 L517.85 435.20 L518.59 435.51 L519.32 435.83 L520.06 436.14 L520.80 436.46 L521.53 436.77 L522.27 437.08 L523.00 437.40 L523.74 437.71 L524.48 438.02 L525.21 438.33 L525.95 438.64 L526.68 438.95 L527.42 439.26 L528.16 439.57 L528.89 439.87 L529.63 440.18 L530.37 440.49 L531.10 440.79 L531.84 441.10 L532.57 441.41 L533.31 441.71 L534.05 442.01 L534.78 442.32 L535.52 442.62 L536.25 442.92 L536.99 443.23 L537.73 443.53 L538.46 443.83 L539.20 444.13 L539.94 444.43 L540.67 444.73 L541.41 445.03 L542.14 445.33 L542.88 445.63 L543.62 445.92 L544.35 446.22 L545.09 446.52 L545.82 446.81 L546.56 447.11 L547.30 447.41 L548.03 447.70 L548.77 447.99 L549.51 448.29 L550.24 448.58 L550.98 448.87 L551.71 449.17 L552.45 449.46 L553.19 449.75 L553.92 450.04 L554.66 450.33 L555.39 450.62 L556.13 450.91 L556.87 451.20 L557.60 451.49 L558.34 451.78 L559.08 452.07 L559.81 452.35 L560.55 452.64 L561.28 452.93 L562.02 453.21 L562.76 453.50 L563.49 453.78 L564.23 454.07 L564.96 454.35 L565.70 454.64 L566.44 454.92 L567.17 455.20 L567.91 455.48 L568.65 455.77 L569.38 456.05 L570.12 456.33 L570.85 456.61 L571.59 456.89 L572.33 457.17 L573.06 457.45 L573.80 457.73 L574.53 458.01 L575.27 458.28 L576.01 458.56 L576.74 458.84 L577.48 459.12 L578.22 459.39 L578.95 459.67 L579.69 459.94 L580.42 460.22 L581.16 460.49 L581.90 460.77 L582.63 461.04 L583.37 461.32 L584.10 461.59 L584.84 461.86 L585.58 462.13 L586.31 462.40 L587.05 462.68 L587.79 462.95 L588.52 463.22 L589.26 463.49 L589.99 463.76 L590.73 464.03 L591.47 464.30 L592.20 464.56 L592.94 464.83 L593.67 465.10 L594.41 465.37 L595.15 465.63 L595.88 465.90 L596.62 466.17 L597.36 466.43 L598.09 466.70 L598.83 466.96 L599.56 467.23 L600.30 467.49 L601.04 467.76 L601.77 468.02 L602.51 468.28 L603.24 468.55 L603.98 468.81 L604.72 469.07 L605.45 469.33 L606.19 469.59 L606.93 469.85 L607.66 470.11 L608.40 470.37 L609.13 470.63 L609.87 470.89 L610.61 471.15 L611.34 471.41 L612.08 471.67 L612.81 471.93 L613.55 472.18 L614.29 472.44 L615.02 472.70 L615.76 472.95 L616.50 473.21 L617.23 473.47 L617.97 473.72 L618.70 473.98 L619.44 474.23 L620.18 474.49 L620.91 474.74 L621.65 474.99 L622.38 475.25 L623.12 475.50 L623.86 475.75 L624.59 476.00 L625.33 476.25 L626.07 476.51 L626.80 476.76 L627.54 477.01 L628.27 477.26 L629.01 477.51 L629.67 477.73" fill="none" stroke="#aa0000" stroke-width="3.0" stroke-dasharray="5.5 5.6" stroke-dashoffset="-1.0"/>
<path d="M148.30 109.82 L149.04 112.35 L149.77 114.86 L150.51 117.32 L151.25 119.76 L151.98 122.16 L152.72 124.53 L153.45 126.87 L154.19 129.18 L154.93 131.46 L155.66 133.71 L156.40 135.94 L157.13 138.14 L157.87 140.31 L158.61 142.45 L159.34 144.57 L160.08 146.67 L160.82 148.74 L161.55 150.79 L162.29 152.82 L163.02 154.82 L163.76 156.80 L164.50 158.76 L165.23 160.70 L165.97 162.62 L166.70 164.51 L167.44 166.39 L168.18 168.25 L168.91 170.09 L169.65 171.91 L170.39 173.71 L171.12 175.50 L171.86 177.27 L172.59 179.02 L173.33 180.75 L174.07 182.47 L174.80 184.17 L175.54 185.86 L176.27 187.53 L177.01 189.18 L177.75 190.82 L178.48 192.45 L179.22 194.06 L179.96 195.65 L180.69 197.24 L181.43 198.80 L182.16 200.36 L182.90 201.90 L183.64 203.43 L184.37 204.95 L185.11 206.45 L185.84 207.94 L186.58 209.42 L187.32 210.89 L188.05 212.34 L188.79 213.78 L189.53 215.22 L190.26 216.64 L191.00 218.05 L191.73 219.45 L192.47 220.83 L193.21 222.21 L193.94 223.58 L194.68 224.93 L195.41 226.28 L196.15 227.62 L196.89 228.94 L197.62 230.26 L198.36 231.57 L199.10 232.87 L199.83 234.16 L200.57 235.44 L201.30 236.71 L202.04 237.97 L202.78 239.22 L203.51 240.47 L204.25 241.70 L204.98 242.93 L205.72 244.15 L206.46 245.36 L207.19 246.57 L207.93 247.76 L208.67 248.95 L209.40 250.13 L210.14 251.30 L210.87 252.46 L211.61 253.62 L212.35 254.77 L213.08 255.91 L213.82 257.05 L214.55 258.18 L215.29 259.30 L216.03 260.41 L216.76 261.52 L217.50 262.62 L218.24 263.71 L218.97 264.80 L219.71 265.88 L220.44 266.96 L221.18 268.03 L221.92 269.09 L222.65 270.14 L223.39 271.19 L224.12 272.24 L224.86 273.27 L225.60 274.31 L226.33 275.33 L227.07 276.35 L227.81 277.37 L228.54 278.37 L229.28 279.38 L230.01 280.38 L230.75 281.37 L231.49 282.35 L232.22 283.33 L232.96 284.31 L233.69 285.28 L234.43 286.25 L235.17 287.21 L235.90 288.16 L236.64 289.11 L237.38 290.06 L238.11 291.00 L238.85 291.93 L239.58 292.87 L240.32 293.79 L241.06 294.71 L241.79 295.63 L242.53 296.54 L243.26 297.45 L244.00 298.35 L244.74 299.25 L245.47 300.14 L246.21 301.03 L246.95 301.92 L247.68 302.80 L248.42 303.68 L249.15 304.55 L249.89 305.42 L250.63 306.28 L251.36 307.14 L252.10 308.00 L252.83 308.85 L253.57 309.70 L254.31 310.54 L255.04 311.38 L255.78 312.22 L256.52 313.05 L257.25 313.88 L257.99 314.70 L258.72 315.52 L259.46 316.34 L260.20 317.15 L260.93 317.96 L261.67 318.77 L262.40 319.57 L263.14 320.37 L263.88 321.17 L264.61 321.96 L265.35 322.75 L266.09 323.53 L266.82 324.31 L267.56 325.09 L268.29 325.87 L269.03 326.64 L269.77 327.41 L270.50 328.17 L271.24 328.93 L271.97 329.69 L272.71 330.45 L273.45 331.20 L274.18 331.95 L274.92 332.70 L275.66 333.44 L276.39 334.18 L277.13 334.92 L277.86 335.65 L278.60 336.38 L279.34 337.11 L280.07 337.84 L280.81 338.56 L281.54 339.28 L282.28 340.00 L283.02 340.71 L283.75 341.42 L284.49 342.13 L285.23 342.83 L285.96 343.54 L286.70 344.24 L287.43 344.93 L288.17 345.63 L288.91 346.32 L289.64 347.01 L290.38 347.70 L291.11 348.38 L291.85 349.06 L292.59 349.74 L293.32 350.42 L294.06 351.09 L294.80 351.76 L295.53 352.43 L296.27 353.10 L297.00 353.76 L297.74 354.43 L298.48 355.09 L299.21 355.74 L299.95 356.40 L300.68 357.05 L301.42 357.70 L302.16 358.35 L302.89 358.99 L303.63 359.63 L304.37 360.27 L305.10 360.91 L305.84 361.55 L306.57 362.18 L307.31 362.81 L308.05 363.44 L308.78 364.07 L309.52 364.70 L310.25 365.32 L310.99 365.94 L311.73 366.56 L312.46 367.18 L313.20 367.79 L313.94 368.40 L314.67 369.01 L315.41 369.62 L316.14 370.23 L316.88 370.83 L317.62 371.43 L318.35 372.03 L319.09 372.63 L319.82 373.23 L320.56 373.82 L321.30 374.41 L322.03 375.00 L322.77 375.59 L323.51 376.18 L324.24 376.76 L324.98 377.35 L325.71 377.93 L326.45 378.51 L327.19 379.08 L327.92 379.66 L328.66 380.23 L329.39 380.80 L330.13 381.37 L330.87 381.94 L331.60 382.51 L332.34 383.07 L333.08 383.64 L333.81 384.20 L334.55 384.76 L335.28 385.31 L336.02 385.87 L336.76 386.42 L337.49 386.98 L338.23 387.53 L338.96 388.08 L339.70 388.62 L340.44 389.17 L341.17 389.71 L341.91 390.26 L342.65 390.80 L343.38 391.34 L344.12 391.87 L344.85 392.41 L345.59 392.95 L346.33 393.48 L347.06 394.01 L347.80 394.54 L348.53 395.07 L349.27 395.59 L350.01 396.12 L350.74 396.64 L351.48 397.17 L352.22 397.69 L352.95 398.21 L353.69 398.72 L354.42 399.24 L355.16 399.75 L355.90 400.27 L356.63 400.78 L357.37 401.29 L358.10 401.80 L358.84 402.31 L359.58 402.81 L360.31 403.32 L361.05 403.82 L361.79 404.32 L362.52 404.82 L363.26 405.32 L363.99 405.82 L364.73 406.32 L365.47 406.81 L366.20 407.30 L366.94 407.80 L367.67 408.29 L368.41 408.78 L369.15 409.27 L369.88 409.75 L370.62 410.24 L371.36 410.72 L372.09 411.21 L372.83 411.69 L373.56 412.17 L374.30 412.65 L375.04 413.13 L375.77 413.60 L376.51 414.08 L377.25 414.55 L377.98 415.03 L378.72 415.50 L379.45 415.97 L380.19 416.44 L380.93 416.90 L381.66 417.37 L382.40 417.84 L383.13 418.30 L383.87 418.77 L384.61 419.23 L385.34 419.69 L386.08 420.15 L386.82 420.61 L387.55 421.06 L388.29 421.52 L389.02 421.98 L389.76 422.43 L390.50 422.88 L391.23 423.33 L391.97 423.78 L392.70 424.23 L393.44 424.68 L394.18 425.13 L394.91 425.58 L395.65 426.02 L396.39 426.46 L397.12 426.91 L397.86 427.35 L398.59 427.79 L399.33 428.23 L400.07 428.67 L400.80 429.11 L401.54 429.54 L402.27 429.98 L403.01 430.41 L403.75 430.85 L404.48 431.28 L405.22 431.71 L405.96 432.14 L406.69 432.57 L407.43 433.00 L408.16 433.42 L408.90 433.85 L409.64 434.28 L410.37 434.70 L411.11 435.12 L411.84 435.54 L412.58 435.97 L413.32 436.39 L414.05 436.81 L414.79 437.22 L415.53 437.64 L416.26 438.06 L417.00 438.47 L417.73 438.89 L418.47 439.30 L419.21 439.71 L419.94 440.13 L420.68 440.54 L421.41 440.95 L422.15 441.35 L422.89 441.76 L423.62 442.17 L424.36 442.58 L425.10 442.98 L425.83 443.38 L426.57 443.79 L427.30 444.19 L428.04 444.59 L428.78 444.99 L429.51 445.39 L430.25 445.79 L430.98 446.19 L431.72 446.59 L432.46 446.98 L433.19 447.38 L433.93 447.77 L434.67 448.17 L435.40 448.56 L436.14 448.95 L436.87 449.34 L437.61 449.73 L438.35 450.12 L439.08 450.51 L439.82 450.90 L440.55 451.29 L441.29 451.67 L442.03 452.06 L442.76 452.44 L443.50 452.83 L444.24 453.21 L444.97 453.59 L445.71 453.97 L446.44 454.35 L447.18 454.73 L447.92 455.11 L448.65 455.49 L449.39 455.87 L450.12 456.24 L450.86 456.62 L451.60 456.99 L452.33 457.37 L453.07 457.74 L453.81 458.11 L454.54 458.49 L455.28 458.86 L456.01 459.23 L456.75 459.60 L457.49 459.96 L458.22 460.33 L458.96 460.70 L459.69 461.07 L460.43 461.43 L461.17 461.80 L461.90 462.16 L462.64 462.53 L463.38 462.89 L464.11 463.25 L464.85 463.61 L465.58 463.97 L466.32 464.33 L467.06 464.69 L467.79 465.05 L468.53 465.41 L469.26 465.77 L470.00 466.12 L470.74 466.48 L471.47 466.83 L472.21 467.19 L472.95 467.54 L473.68 467.89 L474.42 468.25 L475.15 468.60 L475.89 468.95 L476.63 469.30 L477.36 469.65 L478.10 470.00 L478.83 470.35 L479.57 470.69 L480.31 471.04 L481.04 471.39 L481.78 471.73 L482.52 472.08 L483.25 472.42 L483.99 472.76 L484.72 473.11 L485.46 473.45 L486.20 473.79 L486.93 474.13 L487.67 474.47 L488.40 474.81 L489.14 475.15 L489.88 475.49 L490.61 475.83 L491.35 476.16 L492.09 476.50 L492.82 476.84 L493.56 477.17 L494.29 477.51 L494.74 477.71" fill="none" stroke="#0000ff" stroke-width="3.0" stroke-dasharray="5.5 5.6" stroke-dashoffset="-1.0"/>
<path d="M140.35 109.87 L141.09 112.86 L141.82 115.80 L142.56 118.70 L143.29 121.54 L144.03 124.35 L144.77 127.11 L145.50 129.83 L146.24 132.51 L146.98 135.15 L147.71 137.75 L148.45 140.32 L149.18 142.85 L149.92 145.34 L150.66 147.80 L151.39 150.23 L152.13 152.63 L152.87 154.99 L153.60 157.33 L154.34 159.63 L155.07 161.91 L155.81 164.15 L156.55 166.37 L157.28 168.56 L158.02 170.73 L158.75 172.87 L159.49 174.99 L160.23 177.08 L160.96 179.15 L161.70 181.19 L162.44 183.21 L163.17 185.21 L163.91 187.18 L164.64 189.14 L165.38 191.07 L166.12 192.99 L166.85 194.88 L167.59 196.76 L168.32 198.61 L169.06 200.45 L169.80 202.27 L170.53 204.07 L171.27 205.85 L172.01 207.61 L172.74 209.36 L173.48 211.09 L174.21 212.80 L174.95 214.50 L175.69 216.18 L176.42 217.85 L177.16 219.50 L177.89 221.14 L178.63 222.76 L179.37 224.37 L180.10 225.96 L180.84 227.54 L181.58 229.11 L182.31 230.66 L183.05 232.20 L183.78 233.73 L184.52 235.24 L185.26 236.74 L185.99 238.23 L186.73 239.71 L187.46 241.17 L188.20 242.62 L188.94 244.06 L189.67 245.49 L190.41 246.91 L191.15 248.32 L191.88 249.72 L192.62 251.10 L193.35 252.48 L194.09 253.84 L194.83 255.20 L195.56 256.54 L196.30 257.88 L197.03 259.20 L197.77 260.52 L198.51 261.82 L199.24 263.12 L199.98 264.41 L200.72 265.68 L201.45 266.95 L202.19 268.21 L202.92 269.46 L203.66 270.71 L204.40 271.94 L205.13 273.17 L205.87 274.39 L206.60 275.60 L207.34 276.80 L208.08 277.99 L208.81 279.18 L209.55 280.36 L210.29 281.53 L211.02 282.69 L211.76 283.84 L212.49 284.99 L213.23 286.13 L213.97 287.27 L214.70 288.39 L215.44 289.51 L216.17 290.63 L216.91 291.73 L217.65 292.83 L218.38 293.92 L219.12 295.01 L219.86 296.09 L220.59 297.16 L221.33 298.23 L222.06 299.29 L222.80 300.35 L223.54 301.39 L224.27 302.44 L225.01 303.47 L225.74 304.50 L226.48 305.53 L227.22 306.55 L227.95 307.56 L228.69 308.57 L229.43 309.57 L230.16 310.57 L230.90 311.56 L231.63 312.54 L232.37 313.52 L233.11 314.50 L233.84 315.47 L234.58 316.43 L235.31 317.39 L236.05 318.35 L236.79 319.29 L237.52 320.24 L238.26 321.18 L239.00 322.11 L239.73 323.04 L240.47 323.97 L241.20 324.89 L241.94 325.80 L242.68 326.71 L243.41 327.62 L244.15 328.52 L244.88 329.42 L245.62 330.31 L246.36 331.20 L247.09 332.09 L247.83 332.97 L248.57 333.84 L249.30 334.71 L250.04 335.58 L250.77 336.44 L251.51 337.30 L252.25 338.16 L252.98 339.01 L253.72 339.86 L254.45 340.70 L255.19 341.54 L255.93 342.37 L256.66 343.21 L257.40 344.03 L258.14 344.86 L258.87 345.68 L259.61 346.49 L260.34 347.31 L261.08 348.12 L261.82 348.92 L262.55 349.72 L263.29 350.52 L264.02 351.32 L264.76 352.11 L265.50 352.90 L266.23 353.68 L266.97 354.46 L267.71 355.24 L268.44 356.01 L269.18 356.78 L269.91 357.55 L270.65 358.32 L271.39 359.08 L272.12 359.84 L272.86 360.59 L273.59 361.34 L274.33 362.09 L275.07 362.84 L275.80 363.58 L276.54 364.32 L277.28 365.06 L278.01 365.79 L278.75 366.52 L279.48 367.25 L280.22 367.97 L280.96 368.70 L281.69 369.41 L282.43 370.13 L283.16 370.84 L283.90 371.55 L284.64 372.26 L285.37 372.97 L286.11 373.67 L286.85 374.37 L287.58 375.07 L288.32 375.76 L289.05 376.45 L289.79 377.14 L290.53 377.83 L291.26 378.51 L292.00 379.19 L292.73 379.87 L293.47 380.55 L294.21 381.22 L294.94 381.89 L295.68 382.56 L296.42 383.23 L297.15 383.89 L297.89 384.55 L298.62 385.21 L299.36 385.87 L300.10 386.52 L300.83 387.17 L301.57 387.82 L302.30 388.47 L303.04 389.11 L303.78 389.75 L304.51 390.39 L305.25 391.03 L305.99 391.67 L306.72 392.30 L307.46 392.93 L308.19 393.56 L308.93 394.19 L309.67 394.81 L310.40 395.44 L311.14 396.06 L311.87 396.67 L312.61 397.29 L313.35 397.90 L314.08 398.52 L314.82 399.13 L315.56 399.73 L316.29 400.34 L317.03 400.94 L317.76 401.55 L318.50 402.14 L319.24 402.74 L319.97 403.34 L320.71 403.93 L321.44 404.52 L322.18 405.11 L322.92 405.70 L323.65 406.29 L324.39 406.87 L325.13 407.46 L325.86 408.04 L326.60 408.61 L327.33 409.19 L328.07 409.77 L328.81 410.34 L329.54 410.91 L330.28 411.48 L331.01 412.05 L331.75 412.61 L332.49 413.18 L333.22 413.74 L333.96 414.30 L334.70 414.86 L335.43 415.42 L336.17 415.97 L336.90 416.53 L337.64 417.08 L338.38 417.63 L339.11 418.18 L339.85 418.73 L340.58 419.27 L341.32 419.81 L342.06 420.36 L342.79 420.90 L343.53 421.44 L344.27 421.97 L345.00 422.51 L345.74 423.04 L346.47 423.58 L347.21 424.11 L347.95 424.64 L348.68 425.17 L349.42 425.69 L350.15 426.22 L350.89 426.74 L351.63 427.26 L352.36 427.78 L353.10 428.30 L353.84 428.82 L354.57 429.33 L355.31 429.85 L356.04 430.36 L356.78 430.87 L357.52 431.38 L358.25 431.89 L358.99 432.40 L359.72 432.91 L360.46 433.41 L361.20 433.91 L361.93 434.41 L362.67 434.91 L363.41 435.41 L364.14 435.91 L364.88 436.41 L365.61 436.90 L366.35 437.39 L367.09 437.89 L367.82 438.38 L368.56 438.87 L369.29 439.36 L370.03 439.84 L370.77 440.33 L371.50 440.81 L372.24 441.29 L372.98 441.78 L373.71 442.26 L374.45 442.74 L375.18 443.21 L375.92 443.69 L376.66 444.16 L377.39 444.64 L378.13 445.11 L378.86 445.58 L379.60 446.05 L380.34 446.52 L381.07 446.99 L381.81 447.46 L382.55 447.92 L383.28 448.39 L384.02 448.85 L384.75 449.31 L385.49 449.77 L386.23 450.23 L386.96 450.69 L387.70 451.15 L388.43 451.60 L389.17 452.06 L389.91 452.51 L390.64 452.96 L391.38 453.42 L392.12 453.87 L392.85 454.32 L393.59 454.76 L394.32 455.21 L395.06 455.66 L395.80 456.10 L396.53 456.55 L397.27 456.99 L398.00 457.43 L398.74 457.87 L399.48 458.31 L400.21 458.75 L400.95 459.19 L401.69 459.62 L402.42 460.06 L403.16 460.49 L403.89 460.92 L404.63 461.36 L405.37 461.79 L406.10 462.22 L406.84 462.65 L407.57 463.07 L408.31 463.50 L409.05 463.93 L409.78 464.35 L410.52 464.78 L411.26 465.20 L411.99 465.62 L412.73 466.04 L413.46 466.46 L414.20 466.88 L414.94 467.30 L415.67 467.72 L416.41 468.13 L417.14 468.55 L417.88 468.96 L418.62 469.38 L419.35 469.79 L420.09 470.20 L420.83 470.61 L421.56 471.02 L422.30 471.43 L423.03 471.84 L423.77 472.24 L424.51 472.65 L425.24 473.05 L425.98 473.46 L426.71 473.86 L427.45 474.26 L428.19 474.66 L428.92 475.06 L429.66 475.46 L430.40 475.86 L431.13 476.26 L431.87 476.66 L432.60 477.05 L433.34 477.45 L433.86 477.73" fill="none" stroke="#000" stroke-width="3.0" stroke-dasharray="5.5 5.6" stroke-dashoffset="-1.0"/>
</g>
<g><line x1="96.00" y1="477.00" x2="102.00" y2="477.00" stroke="#000" stroke-width="1.0"/>
<line x1="689.00" y1="477.00" x2="683.00" y2="477.00" stroke="#000" stroke-width="1.0"/>
<line x1="96.00" y1="440.24" x2="99.80" y2="440.24" stroke="#000" stroke-width="1.0"/>
<line x1="689.00" y1="440.24" x2="685.20" y2="440.24" stroke="#000" stroke-width="1.0"/>
<line x1="96.00" y1="418.74" x2="99.80" y2="418.74" stroke="#000" stroke-width="1.0"/>
<line x1="689.00" y1="418.74" x2="685.20" y2="418.74" stroke="#000" stroke-width="1.0"/>
<line x1="96.00" y1="403.49" x2="99.80" y2="403.49" stroke="#000" stroke-width="1.0"/>
<line x1="689.00" y1="403.49" x2="685.20" y2="403.49" stroke="#000" stroke-width="1.0"/>
<line x1="96.00" y1="391.66" x2="102.00" y2="391.66" stroke="#000" stroke-width="1.0"/>
<line x1="689.00" y1="391.66" x2="683.00" y2="391.66" stroke="#000" stroke-width="1.0"/>
<line x1="96.00" y1="381.99" x2="99.80" y2="381.99" stroke="#000" stroke-width="1.0"/>
<line x1="689.00" y1="381.99" x2="685.20" y2="381.99" stroke="#000" stroke-width="1.0"/>
<line x1="96.00" y1="373.81" x2="99.80" y2="373.81" stroke="#000" stroke-width="1.0"/>
<line x1="689.00" y1="373.81" x2="685.20" y2="373.81" stroke="#000" stroke-width="1.0"/>
<line x1="96.00" y1="366.73" x2="99.80" y2="366.73" stroke="#000" stroke-width="1.0"/>
<line x1="689.00" y1="366.73" x2="685.20" y2="366.73" stroke="#000" stroke-width="1.0"/>
<line x1="96.00" y1="360.49" x2="99.80" y2="360.49" stroke="#000" stroke-width="1.0"/>
<line x1="689.00" y1="360.49" x2="685.20" y2="360.49" stroke="#000" stroke-width="1.0"/>
<line x1="96.00" y1="354.90" x2="102.00" y2="354.90" stroke="#000" stroke-width="1.0"/>
<line x1="689.00" y1="354.90" x2="683.00" y2="354.90" stroke="#000" stroke-width="1.0"/>
<line x1="96.00" y1="318.14" x2="99.80" y2="318.14" stroke="#000" stroke-width="1.0"/>
<line x1="689.00" y1="318.14" x2="685.20" y2="318.14" stroke="#000" stroke-width="1.0"/>
<line x1="96.00" y1="296.64" x2="99.80" y2="296.64" stroke="#000" stroke-width="1.0"/>
<line x1="689.00" y1="296.64" x2="685.20" y2="296.64" stroke="#000" stroke-width="1.0"/>
<line x1="96.00" y1="281.39" x2="99.80" y2="281.39" stroke="#000" stroke-width="1.0"/>
<line x1="689.00" y1="281.39" x2="685.20" y2="281.39" stroke="#000" stroke-width="1.0"/>
<line x1="96.00" y1="269.56" x2="102.00" y2="269.56" stroke="#000" stroke-width="1.0"/>
<line x1="689.00" y1="269.56" x2="683.00" y2="269.56" stroke="#000" stroke-width="1.0"/>
<line x1="96.00" y1="259.89" x2="99.80" y2="259.89" stroke="#000" stroke-width="1.0"/>
<line x1="689.00" y1="259.89" x2="685.20" y2="259.89" stroke="#000" stroke-width="1.0"/>
<line x1="96.00" y1="251.71" x2="99.80" y2="251.71" stroke="#000" stroke-width="1.0"/>
<line x1="689.00" y1="251.71" x2="685.20" y2="251.71" stroke="#000" stroke-width="1.0"/>
<line x1="96.00" y1="244.63" x2="99.80" y2="244.63" stroke="#000" stroke-width="1.0"/>
<line x1="689.00" y1="244.63" x2="685.20" y2="244.63" stroke="#000" stroke-width="1.0"/>
<line x1="96.00" y1="238.39" x2="99.80" y2="238.39" stroke="#000" stroke-width="1.0"/>
<line x1="689.00" y1="238.39" x2="685.20" y2="238.39" stroke="#000" stroke-width="1.0"/>
<line x1="96.00" y1="232.80" x2="102.00" y2="232.80" stroke="#000" stroke-width="1.0"/>
<line x1="689.00" y1="232.80" x2="683.00" y2="232.80" stroke="#000" stroke-width="1.0"/>
<line x1="96.00" y1="196.04" x2="99.80" y2="196.04" stroke="#000" stroke-width="1.0"/>
<line x1="689.00" y1="196.04" x2="685.20" y2="196.04" stroke="#000" stroke-width="1.0"/>
<line x1="96.00" y1="174.54" x2="99.80" y2="174.54" stroke="#000" stroke-width="1.0"/>
<line x1="689.00" y1="174.54" x2="685.20" y2="174.54" stroke="#000" stroke-width="1.0"/>
<line x1="96.00" y1="159.29" x2="99.80" y2="159.29" stroke="#000" stroke-width="1.0"/>
<line x1="689.00" y1="159.29" x2="685.20" y2="159.29" stroke="#000" stroke-width="1.0"/>
<line x1="96.00" y1="147.46" x2="102.00" y2="147.46" stroke="#000" stroke-width="1.0"/>
<line x1="689.00" y1="147.46" x2="683.00" y2="147.46" stroke="#000" stroke-width="1.0"/>
<line x1="96.00" y1="137.79" x2="99.80" y2="137.79" stroke="#000" stroke-width="1.0"/>
<line x1="689.00" y1="137.79" x2="685.20" y2="137.79" stroke="#000" stroke-width="1.0"/>
<line x1="96.00" y1="129.61" x2="99.80" y2="129.61" stroke="#000" stroke-width="1.0"/>
<line x1="689.00" y1="129.61" x2="685.20" y2="129.61" stroke="#000" stroke-width="1.0"/>
<line x1="96.00" y1="122.53" x2="99.80" y2="122.53" stroke="#000" stroke-width="1.0"/>
<line x1="689.00" y1="122.53" x2="685.20" y2="122.53" stroke="#000" stroke-width="1.0"/>
<line x1="96.00" y1="116.29" x2="99.80" y2="116.29" stroke="#000" stroke-width="1.0"/>
<line x1="689.00" y1="116.29" x2="685.20" y2="116.29" stroke="#000" stroke-width="1.0"/>
<line x1="96.00" y1="477.00" x2="96.00" y2="471.20" stroke="#000" stroke-width="1.0"/>
<line x1="96.00" y1="110.70" x2="96.00" y2="116.50" stroke="#000" stroke-width="1.0"/>
<line x1="125.65" y1="477.00" x2="125.65" y2="474.00" stroke="#000" stroke-width="1.0"/>
<line x1="125.65" y1="110.70" x2="125.65" y2="113.70" stroke="#000" stroke-width="1.0"/>
<line x1="155.30" y1="477.00" x2="155.30" y2="474.00" stroke="#000" stroke-width="1.0"/>
<line x1="155.30" y1="110.70" x2="155.30" y2="113.70" stroke="#000" stroke-width="1.0"/>
<line x1="184.95" y1="477.00" x2="184.95" y2="474.00" stroke="#000" stroke-width="1.0"/>
<line x1="184.95" y1="110.70" x2="184.95" y2="113.70" stroke="#000" stroke-width="1.0"/>
<line x1="214.60" y1="477.00" x2="214.60" y2="474.00" stroke="#000" stroke-width="1.0"/>
<line x1="214.60" y1="110.70" x2="214.60" y2="113.70" stroke="#000" stroke-width="1.0"/>
<line x1="244.25" y1="477.00" x2="244.25" y2="471.20" stroke="#000" stroke-width="1.0"/>
<line x1="244.25" y1="110.70" x2="244.25" y2="116.50" stroke="#000" stroke-width="1.0"/>
<line x1="273.90" y1="477.00" x2="273.90" y2="474.00" stroke="#000" stroke-width="1.0"/>
<line x1="273.90" y1="110.70" x2="273.90" y2="113.70" stroke="#000" stroke-width="1.0"/>
<line x1="303.55" y1="477.00" x2="303.55" y2="474.00" stroke="#000" stroke-width="1.0"/>
<line x1="303.55" y1="110.70" x2="303.55" y2="113.70" stroke="#000" stroke-width="1.0"/>
<line x1="333.20" y1="477.00" x2="333.20" y2="474.00" stroke="#000" stroke-width="1.0"/>
<line x1="333.20" y1="110.70" x2="333.20" y2="113.70" stroke="#000" stroke-width="1.0"/>
<line x1="362.85" y1="477.00" x2="362.85" y2="474.00" stroke="#000" stroke-width="1.0"/>
<line x1="362.85" y1="110.70" x2="362.85" y2="113.70" stroke="#000" stroke-width="1.0"/>
<line x1="392.50" y1="477.00" x2="392.50" y2="471.20" stroke="#000" stroke-width="1.0"/>
<line x1="392.50" y1="110.70" x2="392.50" y2="116.50" stroke="#000" stroke-width="1.0"/>
<line x1="422.15" y1="477.00" x2="422.15" y2="474.00" stroke="#000" stroke-width="1.0"/>
<line x1="422.15" y1="110.70" x2="422.15" y2="113.70" stroke="#000" stroke-width="1.0"/>
<line x1="451.80" y1="477.00" x2="451.80" y2="474.00" stroke="#000" stroke-width="1.0"/>
<line x1="451.80" y1="110.70" x2="451.80" y2="113.70" stroke="#000" stroke-width="1.0"/>
<line x1="481.45" y1="477.00" x2="481.45" y2="474.00" stroke="#000" stroke-width="1.0"/>
<line x1="481.45" y1="110.70" x2="481.45" y2="113.70" stroke="#000" stroke-width="1.0"/>
<line x1="511.10" y1="477.00" x2="511.10" y2="474.00" stroke="#000" stroke-width="1.0"/>
<line x1="511.10" y1="110.70" x2="511.10" y2="113.70" stroke="#000" stroke-width="1.0"/>
<line x1="540.75" y1="477.00" x2="540.75" y2="471.20" stroke="#000" stroke-width="1.0"/>
<line x1="540.75" y1="110.70" x2="540.75" y2="116.50" stroke="#000" stroke-width="1.0"/>
<line x1="570.40" y1="477.00" x2="570.40" y2="474.00" stroke="#000" stroke-width="1.0"/>
<line x1="570.40" y1="110.70" x2="570.40" y2="113.70" stroke="#000" stroke-width="1.0"/>
<line x1="600.05" y1="477.00" x2="600.05" y2="474.00" stroke="#000" stroke-width="1.0"/>
<line x1="600.05" y1="110.70" x2="600.05" y2="113.70" stroke="#000" stroke-width="1.0"/>
<line x1="629.70" y1="477.00" x2="629.70" y2="474.00" stroke="#000" stroke-width="1.0"/>
<line x1="629.70" y1="110.70" x2="629.70" y2="113.70" stroke="#000" stroke-width="1.0"/>
<line x1="659.35" y1="477.00" x2="659.35" y2="474.00" stroke="#000" stroke-width="1.0"/>
<line x1="659.35" y1="110.70" x2="659.35" y2="113.70" stroke="#000" stroke-width="1.0"/>
<line x1="689.00" y1="477.00" x2="689.00" y2="471.20" stroke="#000" stroke-width="1.0"/>
<line x1="689.00" y1="110.70" x2="689.00" y2="116.50" stroke="#000" stroke-width="1.0"/></g>
<line x1="95.1" y1="110.7" x2="689.9" y2="110.7" stroke="#000" stroke-width="1.4"/><line x1="95.1" y1="477.0" x2="689.9" y2="477.0" stroke="#000" stroke-width="1.8"/><line x1="96.0" y1="110.0" x2="96.0" y2="477.9" stroke="#000" stroke-width="1.8"/><line x1="689.0" y1="110.0" x2="689.0" y2="477.9" stroke="#000" stroke-width="1.8"/>
<g opacity="0.999">
<g><text x="92.40" y="118.30" text-anchor="end" font-size="25.3">100</text>
<text x="92.40" y="155.06" text-anchor="end" font-size="25.3">50</text>
<text x="92.40" y="240.40" text-anchor="end" font-size="25.3">10</text>
<text x="92.40" y="277.16" text-anchor="end" font-size="25.3">5</text>
<text x="91.80" y="362.50" text-anchor="end" font-size="25.3">1</text>
<text x="91.60" y="399.66" text-anchor="end" font-size="25.3">0.5</text>
<text x="91.30" y="484.80" text-anchor="end" font-size="25.3">0.1</text>
<text x="96.00" y="503.6" text-anchor="middle" font-size="25.3">0</text>
<text x="244.25" y="503.6" text-anchor="middle" font-size="25.3">1</text>
<text x="392.50" y="503.6" text-anchor="middle" font-size="25.3">2</text>
<text x="540.75" y="503.6" text-anchor="middle" font-size="25.3">3</text>
<text x="689.00" y="503.6" text-anchor="middle" font-size="25.3">4</text></g>
<!--TITLE-->
<g class="s" font-size="22.5" stroke="#000" stroke-width="0.35">
<text class="s" x="277.9" y="84.9">(</text>
<text class="s" x="284.0" y="84.9">a</text>
<text class="s" x="295.8" y="84.9">)</text>
<text class="s" x="310.9" y="84.9" font-style="italic">M</text>
<text class="s" x="330.3" y="89.4" font-size="16">bh,6</text>
<text class="s" x="363.3" y="84.9">=</text>
<path transform="translate(376.0,84.9) scale(0.010986,-0.010986)" d="M763 0H583V1147Q518 1085 412.5 1023T223 930V1104Q373 1174.5 485 1275T644 1470H763Z" fill="#000"/>
<text class="s" x="395.2" y="84.9" letter-spacing="0.45">and</text>
<text class="s" x="441.5" y="84.9" font-style="italic">m</text>
<g stroke="#000" stroke-width="1.15" stroke-linecap="butt"><line x1="464.7" y1="83.0" x2="464.7" y2="89.0"/><line x1="462.1" y1="84.5" x2="467.3" y2="87.5"/><line x1="462.1" y1="87.5" x2="467.3" y2="84.5"/></g>
<text class="s" x="467.3" y="88.9" font-size="15.5">,</text>
<path transform="translate(471.5,88.9) scale(0.007568,-0.007568)" d="M763 0H583V1147Q518 1085 412.5 1023T223 930V1104Q373 1174.5 485 1275T644 1470H763Z" fill="#000"/>
<text class="s" x="482.65" y="84.9">=</text>
<path transform="translate(495.5,84.9) scale(0.010986,-0.010986)" d="M763 0H583V1147Q518 1085 412.5 1023T223 930V1104Q373 1174.5 485 1275T644 1470H763Z" fill="#000"/>
</g>
<!--XLABEL-->
<text transform="translate(393.2,541.1) scale(1.1,1)" x="0" y="0" text-anchor="middle" font-size="24.5" font-style="italic">β</text>
<!--YLABEL-->
<g transform="translate(36.6,0) rotate(-90)">
<text x="-351.2" y="0" font-size="25.3" stroke="#000" stroke-width="0.2">Δt</text>
<text x="-328.8" y="4.6" font-size="20" font-style="italic" stroke="#000" stroke-width="0.4">O</text>
<rect x="-312.7" y="-1.8" width="7.7" height="1.25" fill="#000"/>
<text transform="translate(-299.9,4.6) scale(1.12,1)" x="0" y="0" font-size="20" font-style="italic" stroke="#000" stroke-width="0.4">X</text>
<text x="-276.3" y="0.2" font-size="26.2" stroke="#000" stroke-width="0.2">[yr]</text>
</g>
</g>
</svg>
</body></html>
